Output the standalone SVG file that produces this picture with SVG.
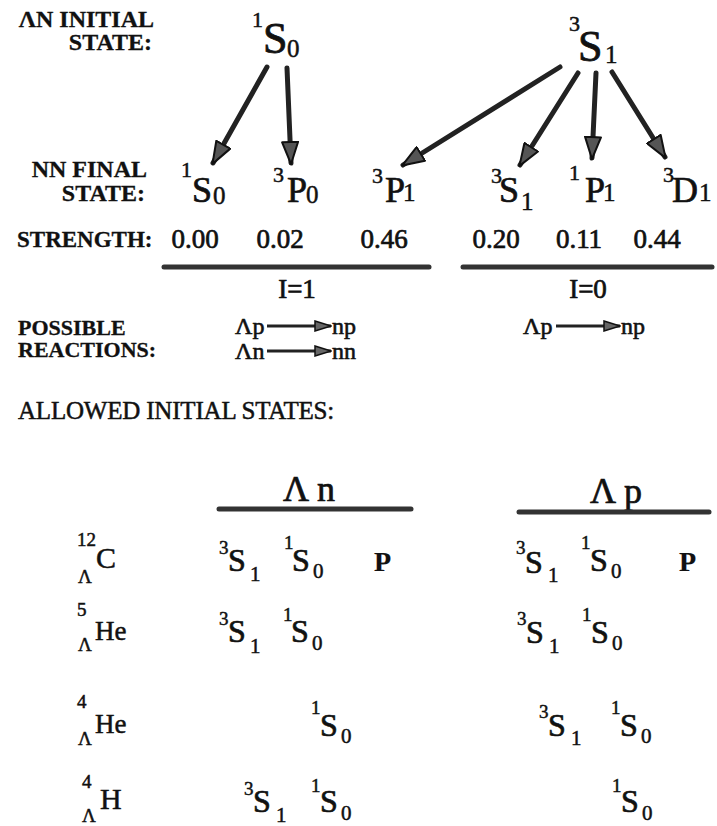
<svg xmlns="http://www.w3.org/2000/svg" width="717" height="826" viewBox="0 0 717 826">
<style>
text{font-family:"Liberation Serif","DejaVu Serif","Times New Roman",serif;fill:#111;stroke:#111;stroke-width:0.5}
.lb{font-weight:bold;font-size:24px;stroke-width:0.3}
.big{font-size:44px;stroke-width:0.8}
.mid{font-size:36px;stroke-width:0.7}
.sup{font-size:22px}
.sub{font-size:25px}
.val{font-size:27px;stroke-width:0.7}
.rx{font-size:24px;stroke-width:0.6}
.ts{font-size:32px;stroke-width:0.7}
.tsup{font-size:19px}
.tsub{font-size:21px}
.arr{stroke:#222;stroke-width:5;stroke-linecap:round;fill:none}
.rarr{stroke:#222;stroke-width:3;fill:none}
.rule{stroke:#333;stroke-width:5;stroke-linecap:round}
</style>
<defs>
<marker id="ah" viewBox="0 0 24 18" refX="22" refY="9" markerWidth="24" markerHeight="18" markerUnits="userSpaceOnUse" orient="auto">
<path d="M1,1 L23,9 L1,17 Z" fill="#555" stroke="#111" stroke-width="2" stroke-linejoin="round"/>
</marker>
<marker id="sh" viewBox="0 0 18 12" refX="17" refY="6" markerWidth="18" markerHeight="12" markerUnits="userSpaceOnUse" orient="auto">
<path d="M1,1 L17,6 L1,11 Z" fill="#666" stroke="#111" stroke-width="1.5"/>
</marker>
</defs>

<g id="labels">
<text class="lb" x="154" y="27" text-anchor="end">ΛN INITIAL</text>
<text class="lb" x="152" y="50" text-anchor="end">STATE:</text>
<text class="lb" x="147" y="177" text-anchor="end">NN FINAL</text>
<text class="lb" x="145" y="201" text-anchor="end">STATE:</text>
<text class="lb" x="17" y="247" style="font-size:23px">STRENGTH:</text>
<text class="lb" x="18" y="335" style="font-size:22px">POSSIBLE</text>
<text class="lb" x="18" y="357" style="font-size:22px">REACTIONS:</text>
<text x="18" y="419" style="font-size:25px;letter-spacing:-0.2px">ALLOWED INITIAL STATES:</text>
</g>

<g id="init-1S0">
<text class="sup" x="252" y="27">1</text>
<text class="big" x="263" y="53">S</text>
<text class="sub" x="287" y="57">0</text>
</g>
<g id="init-3S1">
<text class="sup" x="569" y="31">3</text>
<text class="big" x="578" y="61">S</text>
<text class="sub" x="605" y="63">1</text>
</g>

<g id="fin-1S0">
<text class="sup" x="181" y="177">1</text>
<text class="mid" x="192" y="202">S</text>
<text class="sub" x="213" y="204">0</text>
</g>
<g id="fin-3P0">
<text class="sup" x="273" y="182">3</text>
<text class="mid" x="287" y="202">P</text>
<text class="sub" x="306" y="203">0</text>
</g>
<g id="fin-3P1">
<text class="sup" x="372" y="183">3</text>
<text class="mid" x="385" y="202">P</text>
<text class="sub" x="403" y="201">1</text>
</g>
<g id="fin-3S1">
<text class="sup" x="491" y="183">3</text>
<text class="mid" x="499" y="202">S</text>
<text class="sub" x="521" y="210">1</text>
</g>
<g id="fin-1P1">
<text class="sup" x="569" y="180">1</text>
<text class="mid" x="585" y="202">P</text>
<text class="sub" x="603" y="201">1</text>
</g>
<g id="fin-3D1">
<text class="sup" x="663" y="182">3</text>
<text class="mid" x="672" y="202">D</text>
<text class="sub" x="699" y="201">1</text>
</g>

<g id="connectors">
<line class="arr" x1="267" y1="67" x2="213" y2="163" marker-end="url(#ah)"/>
<line class="arr" x1="287" y1="68" x2="291" y2="163" marker-end="url(#ah)"/>
<line class="arr" x1="560" y1="67" x2="403" y2="165" marker-end="url(#ah)"/>
<line class="arr" x1="578" y1="73" x2="520" y2="165" marker-end="url(#ah)"/>
<line class="arr" x1="596" y1="73" x2="592" y2="158" marker-end="url(#ah)"/>
<line class="arr" x1="612" y1="72" x2="665" y2="157" marker-end="url(#ah)"/>
</g>

<g id="strengths">
<text class="val" x="195" y="248" text-anchor="middle">0.00</text>
<text class="val" x="280" y="248" text-anchor="middle">0.02</text>
<text class="val" x="384" y="248" text-anchor="middle">0.46</text>
<text class="val" x="496" y="248" text-anchor="middle">0.20</text>
<text class="val" x="579" y="248" text-anchor="middle">0.11</text>
<text class="val" x="657" y="248" text-anchor="middle">0.44</text>
<line class="rule" x1="164" y1="267" x2="429" y2="267"/>
<line class="rule" x1="463" y1="267" x2="712" y2="267"/>
<text class="val" x="297" y="298" text-anchor="middle">I=1</text>
<text class="val" x="588" y="298" text-anchor="middle">I=0</text>
</g>

<g id="reactions">
<text class="rx" x="235" y="334">Λp</text>
<line class="rarr" x1="267" y1="326" x2="331" y2="326" marker-end="url(#sh)"/>
<text class="rx" x="332" y="334">np</text>
<text class="rx" x="235" y="359">Λn</text>
<line class="rarr" x1="267" y1="351" x2="331" y2="351" marker-end="url(#sh)"/>
<text class="rx" x="332" y="359">nn</text>
<text class="rx" x="523" y="334">Λp</text>
<line class="rarr" x1="556" y1="326" x2="620" y2="326" marker-end="url(#sh)"/>
<text class="rx" x="621" y="334">np</text>
</g>

<g id="table-head">
<text x="309" y="501" text-anchor="middle" style="font-size:36px;stroke-width:0.7">Λ n</text>
<line class="rule" x1="219" y1="509" x2="411" y2="509"/>
<text x="616" y="503" text-anchor="middle" style="font-size:36px;stroke-width:0.7">Λ p</text>
<line class="rule" x1="519" y1="512" x2="709" y2="512"/>
</g>

<g id="row-C12">
<text class="tsup" x="77" y="546">12</text>
<text class="tsup" x="78" y="583">Λ</text>
<text style="font-size:30px" x="96" y="568">C</text>
<text class="tsup" x="219" y="554">3</text>
<text class="ts" x="228" y="571">S</text>
<text class="tsub" x="250" y="581">1</text>
<text class="tsup" x="284" y="549">1</text>
<text class="ts" x="292" y="571">S</text>
<text class="tsub" x="313" y="578">0</text>
<text x="374" y="571" style="font-size:28px;font-weight:bold;stroke-width:0.2">P</text>
<text class="tsup" x="516" y="554">3</text>
<text class="ts" x="525" y="573">S</text>
<text class="tsub" x="548" y="582">1</text>
<text class="tsup" x="581" y="549">1</text>
<text class="ts" x="590" y="571">S</text>
<text class="tsub" x="611" y="578">0</text>
<text x="679" y="571" style="font-size:28px;font-weight:bold;stroke-width:0.2">P</text>
</g>

<g id="row-He5">
<text class="tsup" x="77" y="616">5</text>
<text class="tsup" x="78" y="651">Λ</text>
<text style="font-size:27px" x="95" y="640">He</text>
<text class="tsup" x="219" y="625">3</text>
<text class="ts" x="228" y="642">S</text>
<text class="tsub" x="250" y="653">1</text>
<text class="tsup" x="283" y="621">1</text>
<text class="ts" x="291" y="642">S</text>
<text class="tsub" x="312" y="650">0</text>
<text class="tsup" x="517" y="625">3</text>
<text class="ts" x="526" y="643">S</text>
<text class="tsub" x="549" y="653">1</text>
<text class="tsup" x="582" y="621">1</text>
<text class="ts" x="591" y="643">S</text>
<text class="tsub" x="612" y="650">0</text>
</g>

<g id="row-He4">
<text class="tsup" x="77" y="708">4</text>
<text class="tsup" x="78" y="745">Λ</text>
<text style="font-size:27px" x="95" y="733">He</text>
<text class="tsup" x="311" y="714">1</text>
<text class="ts" x="320" y="736">S</text>
<text class="tsub" x="341" y="743">0</text>
<text class="tsup" x="539" y="718">3</text>
<text class="ts" x="548" y="736">S</text>
<text class="tsub" x="571" y="745">1</text>
<text class="tsup" x="611" y="714">1</text>
<text class="ts" x="620" y="736">S</text>
<text class="tsub" x="641" y="743">0</text>
</g>

<g id="row-H4">
<text class="tsup" x="82" y="788">4</text>
<text class="tsup" x="82" y="822">Λ</text>
<text style="font-size:30px" x="100" y="809">H</text>
<text class="tsup" x="244" y="795">3</text>
<text class="ts" x="253" y="812">S</text>
<text class="tsub" x="276" y="822">1</text>
<text class="tsup" x="311" y="792">1</text>
<text class="ts" x="320" y="812">S</text>
<text class="tsub" x="341" y="820">0</text>
<text class="tsup" x="612" y="792">1</text>
<text class="ts" x="621" y="812">S</text>
<text class="tsub" x="642" y="820">0</text>
</g>
</svg>
